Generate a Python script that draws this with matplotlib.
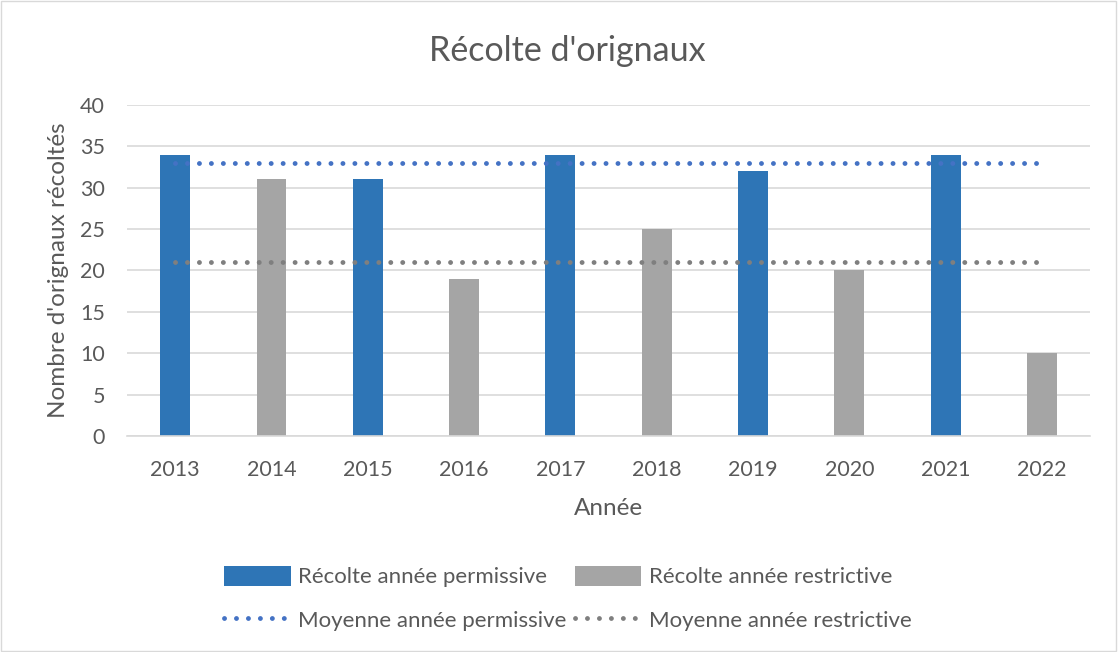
import matplotlib.pyplot as plt
from matplotlib.patches import Rectangle
import numpy as np

# données
annees = ['2013', '2014', '2015', '2016', '2017', '2018', '2019', '2020', '2021', '2022']
recolte_permissive = [34, 0, 31, 0, 34, 0, 32, 0, 34, 0]
recolte_restrictive = [0, 31, 0, 19, 0, 25, 0, 20, 0, 10]
moyenne_permissive = [33] * 10
moyenne_restrictive = [21] * 10

txt = '#595959'
plt.rcParams['font.family'] = ['Lato', 'DejaVu Sans']

fig = plt.figure(figsize=(11.18, 6.52), dpi=100)
ax = fig.add_axes([0.1136, 0.3313, 0.975 - 0.1136, 0.839 - 0.3313])

x = np.arange(len(annees))
w = 0.31
b1 = ax.bar(x, recolte_permissive, width=w, color='#2E75B6', zorder=2)
b2 = ax.bar(x, recolte_restrictive, width=w, color='#A5A5A5', zorder=2)
l1, = ax.plot(x, moyenne_permissive, color='#4472C4', lw=3.5,
              linestyle=(0, (0.01, 2.45)), dash_capstyle='round', zorder=3)
l2, = ax.plot(x, moyenne_restrictive, color='#7F7F7F', lw=3.5,
              linestyle=(0, (0.01, 2.45)), dash_capstyle='round', zorder=3)

ax.set_xlim(-0.5, len(annees) - 0.5)
ax.set_ylim(0, 40)
ax.set_yticks(range(0, 41, 5))
ax.set_xticks(x)
ax.set_xticklabels(annees)
ax.grid(axis='y', color='#D9D9D9', lw=1.2, zorder=0)
for s in ['top', 'right', 'left']:
    ax.spines[s].set_visible(False)
ax.spines['bottom'].set_color('#D9D9D9')
ax.spines['bottom'].set_linewidth(1.2)
ax.tick_params(length=0, labelsize=15.5, colors=txt, pad=17)
ax.tick_params(axis='y', pad=16)

ax.set_xlabel('Année', fontsize=17.5, color=txt, labelpad=13)
ax.set_ylabel("Nombre d'orignaux récoltés", fontsize=17.5, color=txt, labelpad=8)
fig.text(0.507, 0.922, "Récolte d'orignaux", ha='center', va='center',
         fontsize=24.5, color=txt)

fig.legend([b1, l1, b2, l2],
           ['Récolte année permissive', 'Moyenne année permissive',
            'Récolte année restrictive', 'Moyenne année restrictive'],
           ncol=2, loc='center', bbox_to_anchor=(0.508, 0.082), frameon=False,
           fontsize=16, labelcolor=txt, handlelength=3.0, handleheight=1.0,
           columnspacing=0.35, labelspacing=1.0, handletextpad=0.35)

fig.patches.append(Rectangle((0.001, 0.001), 0.997, 0.997, transform=fig.transFigure,
                             fill=False, edgecolor='#D9D9D9', lw=1))

fig.savefig('out.png', dpi=100)
